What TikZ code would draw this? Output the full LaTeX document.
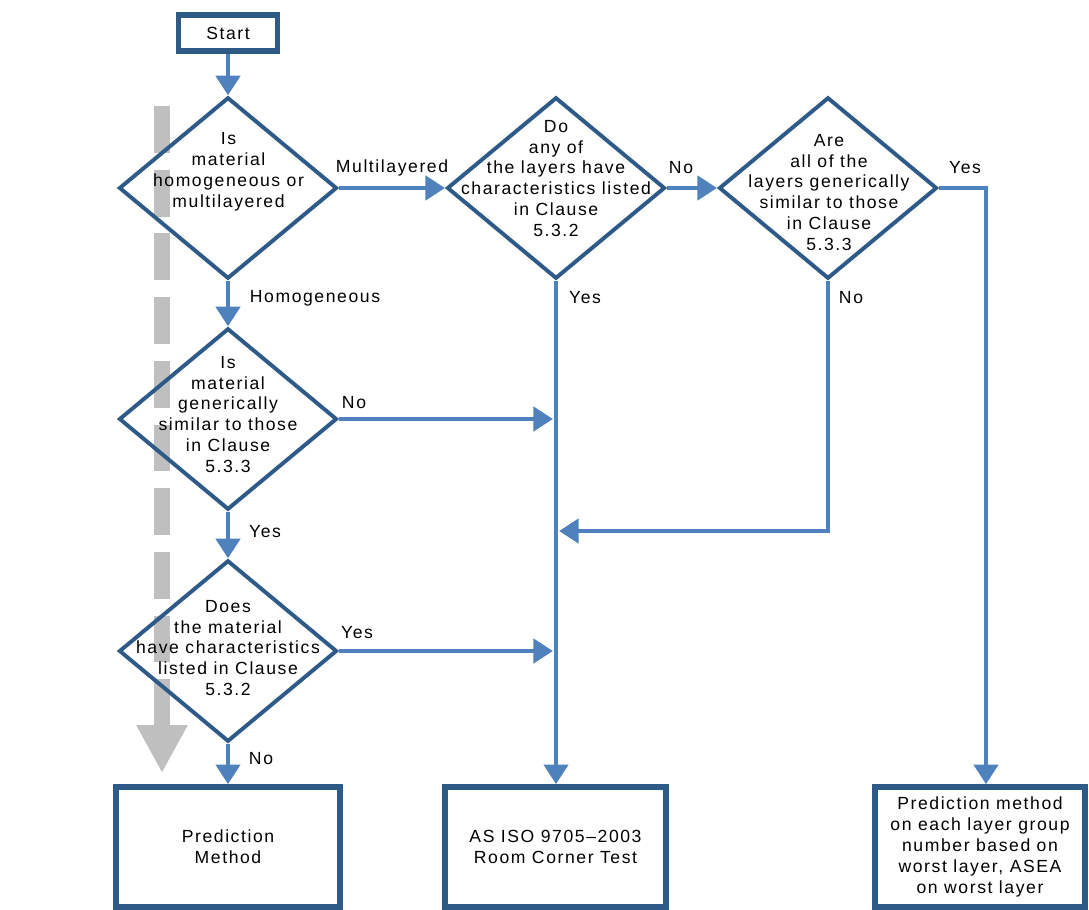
\documentclass[tikz,border=0pt]{standalone}
\usepackage{fontspec}
\setmainfont{Liberation Sans}[LetterSpace=9]
\usetikzlibrary{shapes.geometric,arrows.meta}

\begin{document}
\begin{tikzpicture}[x=0.025cm, y=-0.025cm,
  font=\fontsize{12.5}{14.9}\selectfont,
  blocco/.style={draw=bordoBlu, line width=3.9pt, align=center, inner sep=0pt},
  rombo/.style={draw=bordoBlu, line width=2.8pt, diamond, inner sep=0pt,
                minimum width=155pt, minimum height=129pt},
  testo/.style={align=center, inner sep=0pt},
  etich/.style={inner sep=0pt},
  freccia/.style={draw=lineaBlu, line width=3.5pt,
                  -{Triangle[width=17pt,length=14pt]}},
  grigio/.style={draw=gray!50, line width=11.3pt, dash pattern=on 33.3pt off 12pt,
                 -{Triangle[width=34pt,length=34pt]}}]

% Colori
\definecolor{bordoBlu}{HTML}{2E5A88}
\definecolor{lineaBlu}{HTML}{4F81BD}

% Area del disegno
\useasboundingbox (0,0) rectangle (1089,909);

% Freccia grigia tratteggiata
\draw[grigio] (162,106) -- (162,773);

% Blocchi
\node[blocco, minimum width=70.5pt, minimum height=25.9pt] (start) at (228,33) {Start};
\node[blocco, minimum width=159pt, minimum height=85.4pt] (predizione) at (228,847)
  {Prediction\\Method};
\node[blocco, minimum width=157pt, minimum height=85.4pt] (iso) at (555.5,847)
  {AS ISO 9705--2003\\Room Corner Test};
\node[blocco, minimum width=149.5pt, minimum height=85.4pt] (strati) at (980,847)
  {Prediction method\\on each layer group\\number based on\\worst layer, ASEA\\on worst layer};

% Rombi di decisione
\node[rombo] (q1) at (228,188) {};
\node[rombo] (q2) at (556,188) {};
\node[rombo] (q3) at (828,188) {};
\node[rombo] (q4) at (228,419) {};
\node[rombo] (q5) at (228,651) {};

% Testi dei rombi
\node[testo] (q1testo) at (228.5,171.5) {Is\\material\\homogeneous or\\multilayered};
\node[testo] (q2testo) at (556,178.5) {Do\\any of\\the layers have\\characteristics listed\\in Clause\\5.3.2};
\node[testo] (q3testo) at (829,192.5) {Are\\all of the\\layers generically\\similar to those\\in Clause\\5.3.3};
\node[testo] (q4testo) at (228,414.5) {Is\\material\\generically\\similar to those\\in Clause\\5.3.3};
\node[testo] (q5testo) at (228,648) {Does\\the material\\have characteristics\\listed in Clause\\5.3.2};

% Punti di arrivo sulla linea centrale
\coordinate (tronco) at (553,0);
\coordinate (ritorno) at (559,531);
\coordinate (destra) at (986,0);

% Collegamenti
\draw[freccia] (start) -- (q1);
\draw[freccia] (q1) -- (q2);
\draw[freccia] (q2) -- (q3);
\draw[freccia] (q3.east) -- (q3.east -| destra) -- (destra |- strati.north);
\draw[freccia] (q3.south) |- (ritorno);
\draw[freccia] (q2.south) -- (q2.south |- iso.north);
\draw[freccia] (q1) -- (q4);
\draw[freccia] (q4.east) -- (q4.east -| tronco);
\draw[freccia] (q4) -- (q5);
\draw[freccia] (q5.east) -- (q5.east -| tronco);
\draw[freccia] (q5) -- (predizione);

% Etichette
\node[etich] (lMulti) at (392,168) {Multilayered};
\node[etich] (lNo1) at (681,168) {No};
\node[etich] (lYes1) at (965,168) {Yes};
\node[etich] (lHomog) at (315,298) {Homogeneous};
\node[etich] (lYes2) at (585,298) {Yes};
\node[etich] (lNo2) at (851,298) {No};
\node[etich] (lNo3) at (354,403) {No};
\node[etich] (lYes3) at (265,532) {Yes};
\node[etich] (lYes4) at (357,633) {Yes};
\node[etich] (lNo4) at (261,759) {No};

\end{tikzpicture}
\end{document}
